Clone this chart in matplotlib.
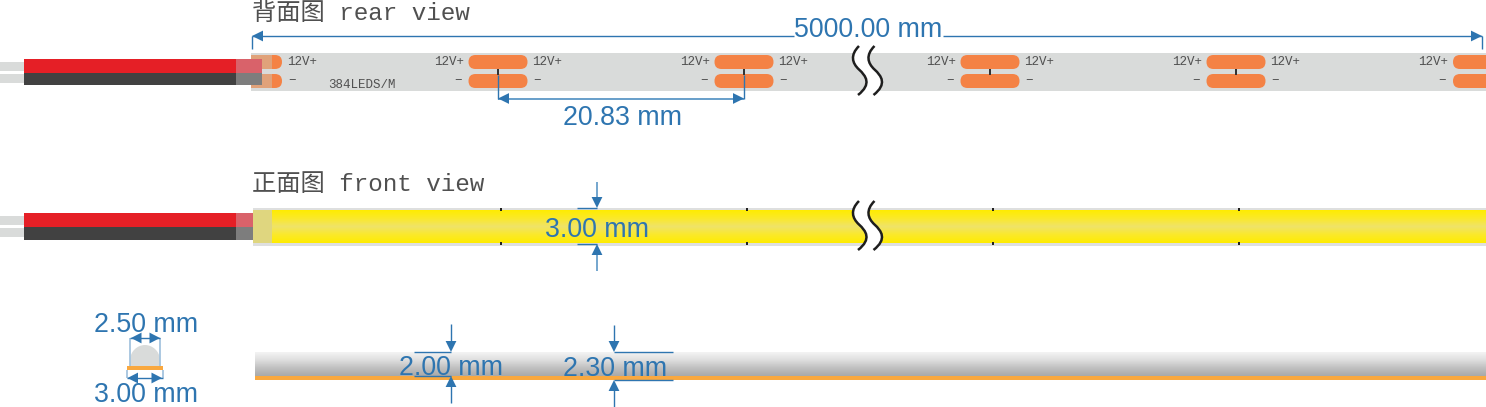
import numpy as np
import matplotlib
matplotlib.use("Agg")
import matplotlib.pyplot as plt
from matplotlib.patches import Rectangle, FancyBboxPatch, Polygon, PathPatch
from matplotlib.path import Path
from matplotlib.colors import LinearSegmentedColormap

# ---- chart content ----
title_rear = "背面图 rear view"
title_front = "正面图 front view"
density_label = "384LEDS/M"
voltage_label = "12V+"
minus_label = "−"
length_label = "5000.00 mm"
pitch_label = "20.83 mm"
width_label = "3.00 mm"
height_label = "2.00 mm"
height_total_label = "2.30 mm"
dome_label = "2.50 mm"
base_label = "3.00 mm"
pad_centers = [498, 744, 990, 1236]
front_cut_marks = [501, 747, 993, 1239]

BLUE = "#2E75B0"
GREY = "#D9DBDA"
ORANGE = "#F48245"
RED = "#E51F26"
DARK = "#414141"
TEXT = "#505050"
SANS = "Liberation Sans"
TITLE_FONT = ["Liberation Mono", "Noto Sans CJK SC"]

fig = plt.figure(figsize=(14.86, 4.07), dpi=100)
ax = fig.add_axes([0, 0, 1, 1])
ax.set_xlim(0, 1486)
ax.set_ylim(407, 0)
ax.axis("off")


def rect(x0, y0, x1, y1, color, z=2):
    ax.add_patch(Rectangle((x0, y0), x1 - x0, y1 - y0, fc=color, ec="none", zorder=z))


def gradient(x0, y0, x1, y1, colors, z=2):
    cmap = LinearSegmentedColormap.from_list("g", colors)
    ax.imshow(np.linspace(0, 1, 128)[:, None], cmap=cmap, extent=(x0, x1, y1, y0),
              aspect="auto", zorder=z, interpolation="bilinear")
    ax.set_xlim(0, 1486)
    ax.set_ylim(407, 0)


def pad(x0, x1, y0, y1, color=ORANGE, z=3):
    r = (y1 - y0) / 2
    ax.add_patch(FancyBboxPatch((x0 + r, y0 + r), x1 - x0 - 2 * r, 0.001,
                                boxstyle=f"round,pad={r},rounding_size={r}",
                                fc=color, ec="none", zorder=z, clip_on=True))


def line(xs, ys, color=BLUE, lw=1.0, z=6):
    ax.plot(xs, ys, color=color, lw=lw, zorder=z, solid_capstyle="butt")


def head(x, y, direction, length=11, half=5.4):
    dx, dy = {"l": (1, 0), "r": (-1, 0), "u": (0, 1), "d": (0, -1)}[direction]
    ax.add_patch(Polygon([(x, y),
                          (x + dx * length - dy * half, y + dy * length - dx * half),
                          (x + dx * length + dy * half, y + dy * length + dx * half)],
                         closed=True, fc=BLUE, ec="none", zorder=7))


def blue_text(x, y, s, size=19.3):
    ax.text(x, y, s, family=SANS, fontsize=size, color=BLUE, ha="left", va="baseline", zorder=8)


def wires(y_stub1, y_stub2, y_red, y_mid, y_bot, x_over0, x_over1):
    rect(0, y_stub1, 24, y_stub1 + 8.5, GREY)
    rect(0, y_stub2, 24, y_stub2 + 8.5, GREY)
    rect(24, y_red, x_over0, y_mid, RED, z=4)
    rect(24, y_mid, x_over0, y_bot, DARK, z=4)
    rect(x_over0, y_red, x_over1, y_mid, "#D9626A", z=5)
    rect(x_over0, y_mid, x_over1, y_bot, "#7D7D7D", z=5)


def break_mark(dy):
    verts1 = [(859, 46), (850, 55), (852, 63), (859, 69.5), (866, 76), (872, 84), (858, 95)]
    verts2 = [(x + 15.5, y) for x, y in verts1]
    v = [(x, y + dy) for x, y in verts1 + verts2[::-1]]
    codes = [Path.MOVETO] + [Path.CURVE4] * 6 + [Path.LINETO] + [Path.CURVE4] * 6
    ax.add_patch(PathPatch(Path(v + [v[0]], codes + [Path.CLOSEPOLY]), fc="white", ec="none", zorder=6))
    c = [Path.MOVETO] + [Path.CURVE4] * 6
    for vs in (verts1, verts2):
        ax.add_patch(PathPatch(Path([(x, y + dy) for x, y in vs], c), fc="none", ec="#1e1e1e",
                               lw=1.8, zorder=7, capstyle="butt"))


# ---- rear view ----
ax.text(252, 20, title_rear, family=TITLE_FONT, fontsize=17.5, color=TEXT, ha="left", va="baseline")
rect(251, 53, 1486, 90.5, GREY)
wires(62, 74, 59, 73, 85, 236, 262)
pad(262, 282, 55, 69)
pad(262, 282, 74, 88)
rect(251, 55, 272, 69, "#E0A27A", z=3.5)
rect(251, 74, 272, 88, "#E0A27A", z=3.5)
for y0, y1 in ((55, 69), (74, 88)):
    pad(1453, 1500, y0, y1)
for c in pad_centers:
    pad(c - 29.5, c + 29.5, 55, 69)
    pad(c - 29.5, c + 29.5, 74, 88)
    rect(c - 1, 68.5, c + 1, 74.5, "#333333", z=5)
lab = dict(family="Liberation Mono", fontsize=9, color=TEXT, va="center", zorder=5)
for c in [252] + pad_centers:
    ax.text(c + 35 if c == 252 else c + 34, 62, voltage_label, ha="left", **lab)
    ax.text(c + 36 if c == 252 else c + 35, 81.5, minus_label, ha="left", **lab)
for c in pad_centers + [1482]:
    ax.text(c - 34, 62, voltage_label, ha="right", **lab)
    ax.text(c - 36, 81.5, minus_label, ha="right", **lab)
ax.text(328, 84.5, density_label, ha="left", **lab)
break_mark(0)

# overall length dimension
line([252, 794], [36, 36])
line([943, 1482], [36, 36])
line([252, 252], [36, 49])
line([1482, 1482], [36, 49])
head(252, 36, "l")
head(1482, 36, "r")
blue_text(794, 37, length_label)

# pitch dimension
line([498, 744], [98.5, 98.5], color="#5C97C6", lw=1.3)
line([498, 498], [75, 99])
line([744, 744], [75, 99])
head(498, 98.5, "l")
head(744, 98.5, "r")
blue_text(563, 125, pitch_label)

# ---- front view ----
ax.text(252, 191, title_front, family=TITLE_FONT, fontsize=17.5, color=TEXT, ha="left", va="baseline")
wires(216, 228, 213, 227, 240, 236, 253)
rect(253, 207.7, 1486, 245.5, "#DEDFDF", z=2)
gradient(272, 210, 1486, 243,
         ["#FFEC00", "#FBE92A", "#EFE36A", "#FBE92A", "#FFEC00"], z=3)
rect(253, 210, 272, 243, "#DFD67F", z=3)
for x in front_cut_marks:
    rect(x - 1, 208, x + 1, 210.5, "#222222", z=5)
    rect(x - 1, 242, x + 1, 245, "#222222", z=5)
break_mark(155)

line([597, 597], [182, 200], color="#5C97C6", lw=1.2)
line([597, 597], [252, 271], color="#5C97C6", lw=1.2)
line([577, 597], [208, 208])
line([577, 597], [244, 244])
head(597, 208, "d")
head(597, 244, "u")
blue_text(545, 237, width_label)

# ---- side view ----
gradient(255, 352, 1486, 376, ["#F4F4F4", "#DEDEDE", "#C0C0C0", "#A8A9A9"], z=2)
rect(255, 376, 1486, 380, "#F9A83F", z=3)

line([451, 451], [324, 342])
line([451, 451], [386, 403])
line([414, 451], [352, 352])
line([414, 451], [375.7, 375.7])
head(451, 352, "d")
head(451, 376, "u")
blue_text(399, 375, height_label)

line([614, 614], [325, 342])
line([614, 614], [390, 407])
line([614, 673], [352, 352])
line([614, 673], [379.5, 379.5])
head(614, 352, "d")
head(614, 380, "u")
blue_text(563, 376, height_total_label)

# ---- cross section ----
ax.add_patch(PathPatch(Path([(130.5, 366), (130.5, 358), (130.5, 352), (137, 345), (145, 345),
                             (153, 345), (159.5, 352), (159.5, 358), (159.5, 366), (130.5, 366)],
                            [Path.MOVETO, Path.LINETO, Path.CURVE4, Path.CURVE4, Path.CURVE4,
                             Path.CURVE4, Path.CURVE4, Path.CURVE4, Path.LINETO, Path.CLOSEPOLY]),
                       fc=GREY, ec="none", zorder=3))
rect(127, 366, 163, 370, "#F9A83F", z=4)
for x in (130, 160):
    line([x, x], [338, 366], color="#9DBFDB", lw=1.2)
for x in (127, 162.5):
    line([x, x], [370, 378], color="#9DBFDB", lw=1.2)
line([130, 160], [338, 338], lw=1.0)
line([127, 162.5], [378, 378], lw=1.0)
head(131, 338, "l", length=10.5)
head(160, 338, "r", length=10.5)
head(127.5, 378, "l", length=10.5)
head(162, 378, "r", length=10.5)
blue_text(94, 332, dome_label)
blue_text(94, 401.5, base_label)

fig.savefig("out.png", dpi=100)
